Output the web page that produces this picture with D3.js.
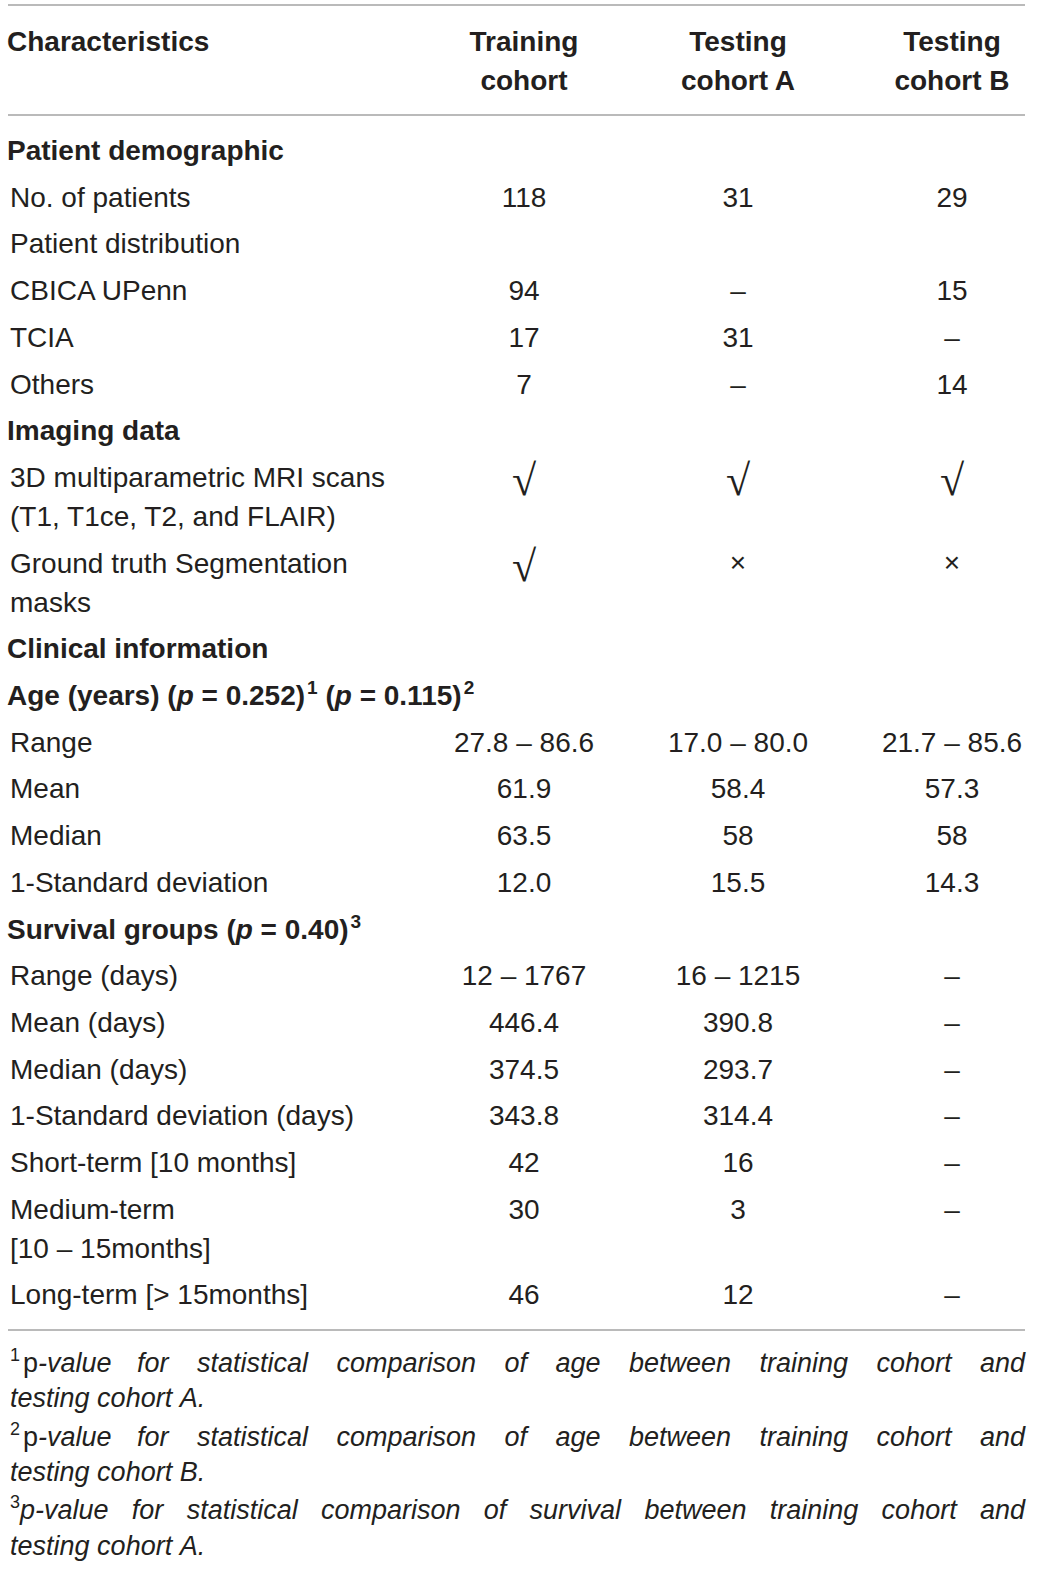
<!DOCTYPE html>
<html>
<head>
<meta charset="utf-8">
<script src="https://cdn.jsdelivr.net/npm/d3@7/dist/d3.min.js"></script>
<style>
  html, body { margin: 0; padding: 0; background: #ffffff; }
  svg { display: block; }
</style>
</head>
<body>
<svg id="chart" width="1045" height="1588"></svg>
<script>
// ---------------- DATA ----------------
const headerLabel = "Characteristics";
const columnHeaders = [["Training", "cohort"], ["Testing", "cohort A"], ["Testing", "cohort B"]];

// row labels (wrapped rows are arrays of lines); *x* = italic, ^n = superscript
const rowLabels = [
  ["Patient demographic"],
  ["No. of patients"],
  ["Patient distribution"],
  ["CBICA UPenn"],
  ["TCIA"],
  ["Others"],
  ["Imaging data"],
  ["3D multiparametric MRI scans", "(T1, T1ce, T2, and FLAIR)"],
  ["Ground truth Segmentation", "masks"],
  ["Clinical information"],
  ["Age (years) (*p* = 0.252)^1 (*p* = 0.115)^2"],
  ["Range"],
  ["Mean"],
  ["Median"],
  ["1-Standard deviation"],
  ["Survival groups (*p* = 0.40)^3"],
  ["Range (days)"],
  ["Mean (days)"],
  ["Median (days)"],
  ["1-Standard deviation (days)"],
  ["Short-term [10 months]"],
  ["Medium-term", "[10 \u2013 15months]"],
  ["Long-term [> 15months]"]
];
const rowKinds = ["section","row","row","row","row","row","section","row","row","section","section",
  "row","row","row","row","section","row","row","row","row","row","row","row"];

const trainingCohort = ["", "118", "", "94", "17", "7", "", "\u221A", "\u221A", "", "",
  "27.8 \u2013 86.6", "61.9", "63.5", "12.0", "",
  "12 \u2013 1767", "446.4", "374.5", "343.8", "42", "30", "46"];
const testingCohortA = ["", "31", "", "\u2013", "31", "\u2013", "", "\u221A", "\u00D7", "", "",
  "17.0 \u2013 80.0", "58.4", "58", "15.5", "",
  "16 \u2013 1215", "390.8", "293.7", "314.4", "16", "3", "12"];
const testingCohortB = ["", "29", "", "15", "\u2013", "14", "", "\u221A", "\u00D7", "", "",
  "21.7 \u2013 85.6", "57.3", "58", "14.3", "",
  "\u2013", "\u2013", "\u2013", "\u2013", "\u2013", "\u2013", "\u2013"];

// footnotes: lines of words; a word is a string (italic) or a list of [text, style] pieces
const footnotes = [
  { justify: true, words: [[["1","sup"],["p","normal"],["-value","italic"]], "for","statistical","comparison","of","age","between","training","cohort","and"] },
  { justify: false, words: ["testing","cohort","A."] },
  { justify: true, words: [[["2","sup"],["p","normal"],["-value","italic"]], "for","statistical","comparison","of","age","between","training","cohort","and"] },
  { justify: false, words: ["testing","cohort","B."] },
  { justify: true, words: [[["3","sup"],["p-value","italic"]], "for","statistical","comparison","of","survival","between","training","cohort","and"] },
  { justify: false, words: ["testing","cohort","A."] }
];

// ---------------- LAYOUT ----------------
const W = 1045, H = 1588;
const textColor = "#231f20";
const ruleColor = "#a3a3a3";
const fontFamily = "'Liberation Sans', Arial, Helvetica, sans-serif";
const fontSize = 28;
const left = 8, right = 1025;
const rowStep = 46.7, wrapStep = 39;
const firstRowY = 150;

const svg = d3.select("#chart");
svg.append("rect").attr("width", W).attr("height", H).attr("fill", "#fff");

const colScale = d3.scalePoint()
  .domain(d3.range(columnHeaders.length))
  .range([524, 952]);

// row vertical positions (cap-centre) built from step units
const rowUnits = [];
{
  let u = 0;
  rowLabels.forEach((lines) => {
    rowUnits.push(u);
    u += 1 + (lines.length - 1) * (wrapStep / rowStep);
  });
}
const yScale = d3.scaleLinear().domain([0, 1]).range([firstRowY, firstRowY + rowStep]);

// rules
const rules = [5, 115, 1330];
svg.selectAll("line.rule").data(rules).enter().append("line")
  .attr("class", "rule")
  .attr("x1", left).attr("x2", right)
  .attr("y1", d => d).attr("y2", d => d)
  .attr("stroke", ruleColor).attr("stroke-width", 1.6);

// header
svg.append("text")
  .attr("x", 7).attr("y", 51)
  .attr("font-family", fontFamily).attr("font-size", fontSize).attr("font-weight", "bold")
  .attr("fill", textColor).text(headerLabel);

const hdr = svg.selectAll("g.colhdr").data(columnHeaders).enter().append("g").attr("class", "colhdr");
hdr.selectAll("text").data((d, i) => d.map((t, j) => ({ t, j, i }))).enter().append("text")
  .attr("x", d => colScale(d.i))
  .attr("y", d => 51 + d.j * 39)
  .attr("text-anchor", "middle")
  .attr("font-family", fontFamily).attr("font-size", fontSize).attr("font-weight", "bold")
  .attr("fill", textColor).text(d => d.t);

// rich-text helper
function addRich(textSel, str) {
  const parts = str.split(/(\*[^*]+\*|\^\d)/).filter(s => s.length);
  let sup = false;
  parts.forEach(p => {
    if (p.startsWith("*")) {
      textSel.append("tspan").attr("font-style", "italic").text(p.slice(1, -1));
    } else if (p.startsWith("^")) {
      textSel.append("tspan").attr("font-size", fontSize * 0.68).attr("dy", -11).attr("dx", 2).text(p.slice(1));
      sup = true;
    } else {
      const ts = textSel.append("tspan").text(p);
      if (sup) { ts.attr("dy", 11); sup = false; }
    }
  });
}

// row labels
rowLabels.forEach((lines, i) => {
  const kind = rowKinds[i];
  const yc = yScale(rowUnits[i]);
  lines.forEach((line, j) => {
    const t = svg.append("text")
      .attr("x", kind === "section" ? 7 : 10)
      .attr("y", yc + 10 + j * wrapStep)
      .attr("font-family", fontFamily)
      .attr("font-size", fontSize)
      .attr("font-weight", kind === "section" ? "bold" : "normal")
      .attr("fill", textColor);
    addRich(t, line);
  });
});

// values
const isCheck = v => v === "\u221A";
const isCross = v => v === "\u00D7";
const series = [trainingCohort, testingCohortA, testingCohortB];
series.forEach((vals, c) => {
  svg.selectAll(null).data(vals.map((v, i) => ({ v, i }))).enter()
    .filter(d => d.v !== "")
    .append("text")
    .attr("x", colScale(c))
    .attr("y", d => {
      const yc = yScale(rowUnits[d.i]);
      if (isCheck(d.v)) return yc + 18;
      if (isCross(d.v)) return yc + 9;
      return yc + 10;
    })
    .attr("text-anchor", "middle")
    .attr("font-family", d => isCheck(d.v) ? "'Liberation Serif', 'Times New Roman', serif" : isCross(d.v) ? "'Liberation Sans', sans-serif" : fontFamily)
    .attr("font-size", d => isCheck(d.v) ? 44 : isCross(d.v) ? 28 : fontSize)
    .attr("font-weight", d => isCheck(d.v) ? "bold" : "normal")
    .attr("fill", textColor)
    .text(d => d.v);
});

// footnotes
const fnY0 = 1372, fnStep = [0, 35, 74, 109, 147, 183];
const fnSize = 27;
footnotes.forEach((line, li) => {
  const y = fnY0 + fnStep[li];
  const g = svg.append("g");
  const wordNodes = line.words.map(w => {
    const t = g.append("text").attr("y", y)
      .attr("font-family", fontFamily).attr("font-size", fnSize).attr("fill", textColor);
    if (typeof w === "string") {
      t.attr("font-style", "italic").text(w);
    } else {
      let sup = false;
      w.forEach(([txt, st]) => {
        const ts = t.append("tspan").text(txt);
        if (st === "sup") { ts.attr("font-size", 18).attr("dy", -11); sup = true; }
        else {
          if (sup) { ts.attr("dy", 11); sup = false; }
          if (st === "italic") ts.attr("font-style", "italic");
          if (st === "normal") ts.attr("dx", 3);
        }
      });
    }
    return t;
  });
  const widths = wordNodes.map(t => t.node().getComputedTextLength());
  const xStart = 10;
  let gap;
  if (line.justify) {
    const total = d3.sum(widths);
    gap = (right - xStart - total) / (widths.length - 1);
  } else {
    gap = fnSize * 0.28;
  }
  let x = xStart;
  wordNodes.forEach((t, k) => { t.attr("x", x); x += widths[k] + gap; });
});
</script>
</body>
</html>
